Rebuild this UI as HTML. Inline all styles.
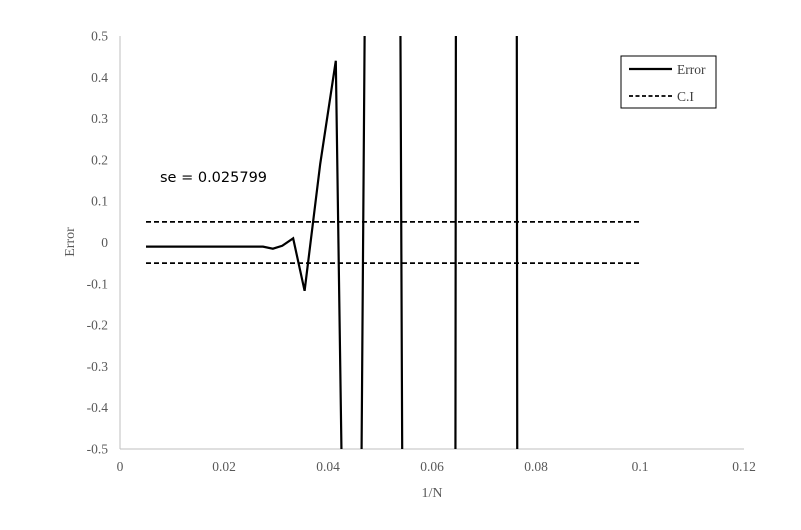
<!DOCTYPE html>
<html><head><meta charset="utf-8"><style>
html,body{margin:0;background:#fff;overflow:hidden;width:801px;height:530px;}
svg{display:block;font-family:"Liberation Serif",serif;}
</style></head><body>
<svg id="chart" width="801" height="530">
<defs><clipPath id="clip"><rect x="120" y="36" width="624" height="413"/></clipPath></defs>
<g id="axes"></g>
<g id="series" clip-path="url(#clip)"></g>
<text x="160" y="182" font-family="'DejaVu Sans',sans-serif" font-size="14.5">se =  0.025799</text>
<text transform="translate(74,242) rotate(-90)" text-anchor="middle" font-size="14" fill="#595959">Error</text>
<text x="432" y="497" text-anchor="middle" font-size="14" fill="#595959">1/N</text>
<g>
<rect x="621" y="56" width="95" height="52" fill="#fff" stroke="#000" stroke-width="1"/>
<line x1="629" y1="69" x2="672" y2="69" stroke="#000" stroke-width="2.2"/>
<text x="677" y="74" font-size="13.5" fill="#404040">Error</text>
<line x1="629" y1="96" x2="672" y2="96" stroke="#000" stroke-width="1.8" stroke-dasharray="4,2.5"/>
<text x="677" y="101" font-size="13.5" fill="#404040">C.I</text>
</g>
</svg>
<script>
const xTicks=[0,0.02,0.04,0.06,0.08,0.1,0.12];
const xTickLabels=["0","0.02","0.04","0.06","0.08","0.1","0.12"];
const yTicks=[0.5,0.4,0.3,0.2,0.1,0,-0.1,-0.2,-0.3,-0.4,-0.5];
const yTickLabels=["0.5","0.4","0.3","0.2","0.1","0","-0.1","-0.2","-0.3","-0.4","-0.5"];
const errX=[0.005,0.01,0.015,0.02,0.0275,0.0294,0.0312,0.0333,0.0355,0.0385,0.0415,0.0427,0.0464,0.0471,0.0539,0.0543,0.0645,0.0646,0.0763,0.0764];
const errY=[-0.01,-0.01,-0.01,-0.01,-0.01,-0.015,-0.008,0.01,-0.117,0.19,0.44,-0.6,-0.6,0.6,0.6,-0.6,-0.6,0.6,0.6,-0.6];
const ciX=[0.005,0.1];
const ciUpper=[0.05,0.05];
const ciLower=[-0.05,-0.05];
const NS="http://www.w3.org/2000/svg";
function sx(v){return 120+(v-0)/0.12*624;}
function sy(v){return 242.5-v*413;}
const axes=document.getElementById('axes'), series=document.getElementById('series');
function mk(tag,attrs,parent){const e=document.createElementNS(NS,tag);for(const k in attrs)e.setAttribute(k,attrs[k]);parent.appendChild(e);return e;}
let a=mk('line',{x1:120,y1:36,x2:120,y2:449,stroke:'#bfbfbf','stroke-width':1},axes);


a=mk('line',{x1:120,y1:449,x2:744,y2:449,stroke:'#bfbfbf','stroke-width':1},axes);


xTicks.forEach((v,i)=>{const t=mk('text',{x:sx(v),y:471,'text-anchor':'middle','font-size':13.5,fill:'#595959'},axes);t.textContent=xTickLabels[i];

});
yTicks.forEach((v,i)=>{const t=mk('text',{x:108,y:sy(v)+4.5,'text-anchor':'end','font-size':13.5,fill:'#595959'},axes);t.textContent=yTickLabels[i];

});
function pts(xs,ys){return xs.map((x,i)=>sx(x)+','+sy(ys[i])).join(' ');}
let p=mk('polyline',{points:pts(ciX,ciUpper),fill:'none',stroke:'#000','stroke-width':1.8,'stroke-dasharray':'5,3'},series);


p=mk('polyline',{points:pts(ciX,ciLower),fill:'none',stroke:'#000','stroke-width':1.8,'stroke-dasharray':'5,3'},series);


p=mk('polyline',{points:pts(errX,errY),fill:'none',stroke:'#000','stroke-width':2.2,'stroke-linejoin':'miter'},series);


</script>
</body></html>
